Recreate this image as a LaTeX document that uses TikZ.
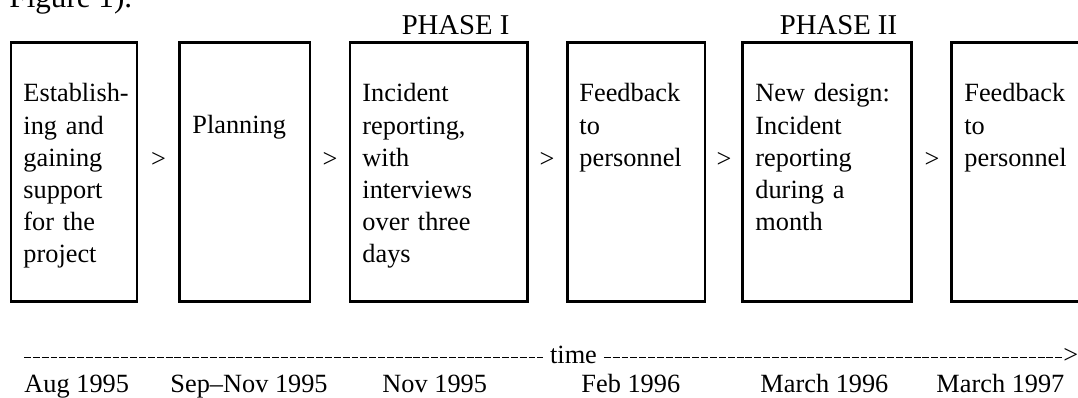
\documentclass[tikz,border=0pt]{standalone}
\usepackage{fontspec}
\setmainfont{Liberation Serif}
\usetikzlibrary{positioning, calc}

\begin{document}
\begin{tikzpicture}[x=0.418pt, y=0.418pt, node distance=16.72pt,
                % Define styles
                stage/.style={rectangle, draw, line width=1.25pt, minimum height=108.26pt, inner sep=0pt, outer sep=0pt},
                stagetext/.style={anchor=base west, text width=70pt, align=left, inner sep=0pt, font=\fontsize{11}{13.4}\selectfont},
                nextsign/.style={inner sep=0pt, font=\fontsize{11}{13.4}\selectfont},
                phase/.style={anchor=base, inner sep=0pt, font=\fontsize{12}{14}\selectfont},
                datetext/.style={anchor=base west, inner sep=0pt, font=\fontsize{11}{13.4}\selectfont},
                timeline/.style={draw, line width=0.8pt, dash pattern=on 2.9pt off 0.8pt}
            ]

            \useasboundingbox (0,0) rectangle (1078,398);

            % --- Nodes ---

            % 0. Caption line cut by the top edge
            \node [anchor=base west, inner sep=0pt, font=\fontsize{13}{15}\selectfont] (caption) at (9,390) {Figure 1).};

            % 1. Stages
            \node [stage, minimum width=52.67pt] (start) at (74,225.5) {};
            \node [stage, minimum width=54.34pt, right=17.97pt of start] (plan) {};
            \node [stage, minimum width=73.99pt, right=of plan] (report) {};
            \node [stage, minimum width=57.68pt, right=of report] (feedback) {};
            \node [stage, minimum width=70.64pt, right=15.88pt of feedback] (redesign) {};
            \node [stage, minimum width=58.52pt, right=of redesign] (feedbacktwo) {};

            % 2. Stage texts
            \node [stagetext] (starttext) at ([shift={(5pt,-24.66pt)}]start.north west) {Establish-\\ing and\\gaining\\support\\for the\\project};
            \node [stagetext] (plantext) at ([shift={(5pt,-38.04pt)}]plan.north west) {Planning};
            \node [stagetext] (reporttext) at ([shift={(5pt,-24.66pt)}]report.north west) {Incident\\reporting,\\with\\interviews\\over three\\days};
            \node [stagetext] (feedbacktext) at ([shift={(5pt,-24.66pt)}]feedback.north west) {Feedback\\to\\personnel};
            \node [stagetext] (redesigntext) at ([shift={(5pt,-24.66pt)}]redesign.north west) {New design:\\Incident\\reporting\\during a\\month};
            \node [stagetext] (feedbacktwotext) at ([shift={(5pt,-24.66pt)}]feedbacktwo.north west) {Feedback\\to\\personnel};

            % 3. Signs between stages
            \node [nextsign] (next1) at ($(start.east)!0.5!(plan.west)+(0pt,5.2pt)$) {>};
            \node [nextsign] (next2) at ($(plan.east)!0.5!(report.west)+(0pt,5.2pt)$) {>};
            \node [nextsign] (next3) at ($(report.east)!0.5!(feedback.west)+(0pt,5.2pt)$) {>};
            \node [nextsign] (next4) at ($(feedback.east)!0.5!(redesign.west)+(0pt,5.2pt)$) {>};
            \node [nextsign] (next5) at ($(redesign.east)!0.5!(feedbacktwo.west)+(0pt,5.2pt)$) {>};

            % 4. Phases
            \node [phase] (phase1) at (455.6,363.6) {PHASE I};
            \node [phase] (phase2) at (838.5,363.6) {PHASE II};

            % 5. Time axis
            \coordinate (tstart) at (24,40.5);
            \node [anchor=base, inner sep=2.7pt, font=\fontsize{11}{13.4}\selectfont] (time) at (573.5,34) {time};
            \node [datetext] (tend) at (1063,34) {>};

            \node [datetext] (aug95) at (24,5) {Aug 1995};
            \node [datetext] (sepnov95) at (170,5) {Sep--Nov 1995};
            \node [datetext] (nov95) at (382,5) {Nov 1995};
            \node [datetext] (feb96) at (581,5) {Feb 1996};
            \node [datetext] (mar96) at (760,5) {March 1996};
            \node [datetext] (mar97) at (936,5) {March 1997};

            % --- Edges ---
            \path [timeline] (tstart) -- (tstart -| time.west);
            \path [timeline] (tstart -| time.east) -- (tstart -| tend.west);

        \end{tikzpicture}
\end{document}
